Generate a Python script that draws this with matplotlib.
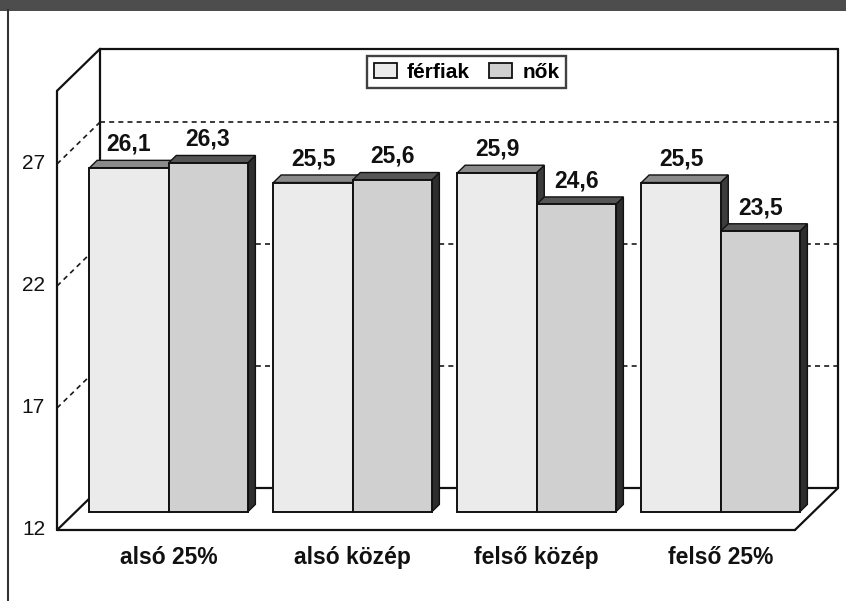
import matplotlib
matplotlib.use("Agg")
import matplotlib.pyplot as plt
from matplotlib.patches import Polygon, Rectangle, Patch
from matplotlib.lines import Line2D

# ---- data -------------------------------------------------------------
categories = ["alsó 25%", "alsó közép", "felső közép", "felső 25%"]
ferfiak = [26.1, 25.5, 25.9, 25.5]
nok = [26.3, 25.6, 24.6, 23.5]
series_names = ["férfiak", "nők"]
y_ticks = [12, 17, 22, 27]
y_min, y_max = 12, 30

# ---- style ------------------------------------------------------------
plt.rcParams['font.family'] = ['Liberation Sans', 'DejaVu Sans']
front_cols = ["#ebebeb", "#d0d0d0"]
top_cols = ["#8a8a8a", "#555555"]
side_cols = ["#3c3c3c", "#2e2e2e"]

fig = plt.figure(figsize=(8.46, 6.01), dpi=100)
ax = fig.add_axes([0, 0, 1, 1])
ax.set_xlim(-0.8152, 3.7826)
ax.set_ylim(9.09, 33.72)
ax.axis('off')

# oblique projection of the depth axis
DX, DY = 0.234, 1.72
X0, X1 = -0.505, 3.505
D_FRONT, D_BACK = 0.43, 0.61
W = 0.43


def proj(x, v, d):
    return (x + d * DX, v + d * DY)


def seg(p, q, **kw):
    ax.plot([p[0], q[0]], [p[1], q[1]], **kw)


frame_kw = dict(color="#111111", lw=1.6, solid_capstyle="round", zorder=2)
grid_kw = dict(color="#1a1a1a", lw=1.2, linestyle=(0, (3, 2.5)), zorder=1)

# gridlines on back and side walls
for t in y_ticks[1:]:
    seg(proj(X0, t, 1), proj(X1, t, 1), **grid_kw)
    seg(proj(X0, t, 0), proj(X0, t, 1), **grid_kw)

# side wall
seg(proj(X0, y_min, 0), proj(X0, y_max, 0), **frame_kw)
seg(proj(X0, y_max, 0), proj(X0, y_max, 1), **frame_kw)
seg(proj(X0, y_min, 0), proj(X0, y_min, 1), **frame_kw)
seg(proj(X0, y_min, 1), proj(X0, y_max, 1), **frame_kw)
# back wall
seg(proj(X0, y_max, 1), proj(X1, y_max, 1), **frame_kw)
seg(proj(X1, y_min, 1), proj(X1, y_max, 1), **frame_kw)
seg(proj(X0, y_min, 1), proj(X1, y_min, 1), **frame_kw)
# floor
seg(proj(X0, y_min, 0), proj(X1, y_min, 0), **frame_kw)
seg(proj(X1, y_min, 0), proj(X1, y_min, 1), **frame_kw)

# y tick labels on the front edge of the side wall
for t in y_ticks:
    ax.text(X0 - 0.065, t, str(t), ha="right", va="center", fontsize=15,
            color="#111111")

# ---- bars ---------------------------------------------------------------
z = 5
for i in range(len(categories)):
    for s, vals in enumerate([ferfiak, nok]):
        v = vals[i]
        xl = i - W if s == 0 else i
        xr = xl + W
        side = [proj(xr, y_min, D_FRONT), proj(xr, v, D_FRONT),
                proj(xr, v, D_BACK), proj(xr, y_min, D_BACK)]
        top = [proj(xl, v, D_FRONT), proj(xr, v, D_FRONT),
               proj(xr, v, D_BACK), proj(xl, v, D_BACK)]
        ax.add_patch(Polygon(side, closed=True, facecolor=side_cols[s],
                             edgecolor="#111111", lw=1.0, zorder=z))
        ax.add_patch(Polygon(top, closed=True, facecolor=top_cols[s],
                             edgecolor="#111111", lw=1.0, zorder=z))
        ax.bar(xl + D_FRONT * DX, v - y_min, bottom=y_min + D_FRONT * DY,
               width=W, align="edge", facecolor=front_cols[s],
               edgecolor="#111111", lw=1.4, zorder=z + 1)
        z += 2
        cx = (xl + xr) / 2 + D_FRONT * DX
        ax.text(cx, v + D_BACK * DY + 0.4, f"{v:.1f}".replace(".", ","),
                ha="center", va="baseline", fontsize=16.5, fontweight="bold",
                color="#111111", zorder=50)

# category labels
for i, c in enumerate(categories):
    ax.text(i + D_FRONT * DX, 10.6, c, ha="center", va="baseline",
            fontsize=16.5, fontweight="bold", color="#111111")

# legend
handles = [Patch(facecolor=front_cols[k], edgecolor="#111111", lw=1.3)
           for k in range(2)]
leg = ax.legend(handles, series_names, loc="center",
                bbox_to_anchor=(0.5514, 0.880), ncol=2, frameon=True,
                fancybox=False, prop=dict(weight="bold", size=15),
                handlelength=1.1, handleheight=0.75, handletextpad=0.5,
                columnspacing=0.9, borderpad=0.3, borderaxespad=0)
leg.get_frame().set_edgecolor("#111111")
leg.get_frame().set_linewidth(1.7)
leg.set_zorder(60)

# page decoration: dark band on top and left rule
fig.patches.append(Rectangle((0, 1 - 11 / 601), 1, 11 / 601,
                             transform=fig.transFigure, facecolor="#4d4d4d",
                             edgecolor="none", zorder=0))
fig.lines.append(Line2D([8 / 846, 8 / 846], [0, 1 - 10 / 601],
                        transform=fig.transFigure, color="#333333", lw=1.5))

fig.savefig("out.png", dpi=100, facecolor="white")
